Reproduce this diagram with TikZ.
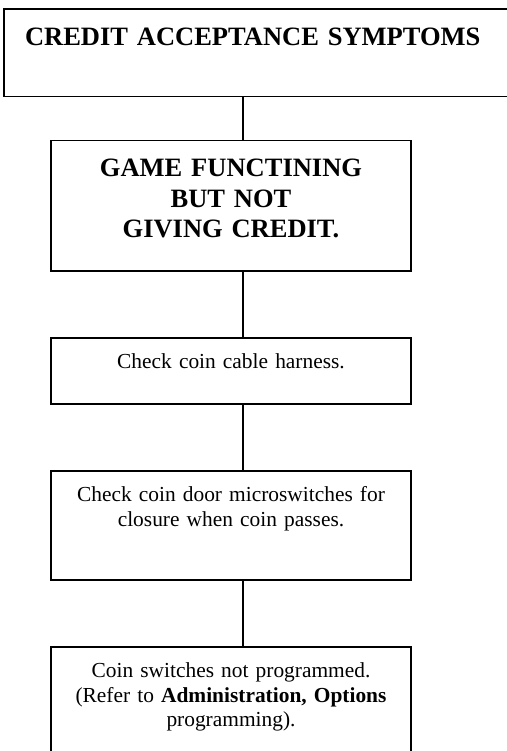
\documentclass[tikz,border=0pt]{standalone}
\usepackage{fontspec}
\setmainfont{Liberation Serif}
\usepackage{tikz}
\usetikzlibrary{positioning}
\tikzset{
  box/.style={draw=black,line width=1.5pt,rectangle,inner sep=0pt,
    text width=360pt,align=center,text height=31pt,
    font=\fontsize{21.4}{24.6}\selectfont},
  headbox/.style={box,text height=36pt,
    font=\fontsize{26.5}{30.5}\selectfont\bfseries},
  link/.style={draw=black,line width=1.5pt},
}

\begin{document}
\begin{tikzpicture}[x=1pt,y=-1pt,node distance=65.5pt]
  \useasboundingbox (0,0) rectangle (506,751);
  \coordinate (spine) at (243,0);
  \node[headbox,anchor=north west,text width=507pt,text depth=51.5pt] (top) at (3,8.5)
    {\hspace*{-9pt}CREDIT ACCEPTANCE SYMPTOMS};
  \node[headbox,anchor=north,text depth=94pt] (game) at (231,140)
    {GAME FUNCTINING\\BUT NOT\\GIVING CREDIT.};
  \node[box,below=of game,text depth=35pt] (harness) {Check coin cable harness.};
  \node[box,below=of harness,text depth=78pt] (micro)
    {Check coin door microswitches for\\closure when coin passes.};
  \node[box,below=of micro,text depth=76pt] (prog)
    {Coin switches not programmed.\\(Refer to \textbf{Administration, Options}\\programming).};
  \foreach \a/\b in {top/game,game/harness,harness/micro,micro/prog}
    \draw[link] (\a.south -| spine) -- (\b.north -| spine);
\end{tikzpicture}
\end{document}
